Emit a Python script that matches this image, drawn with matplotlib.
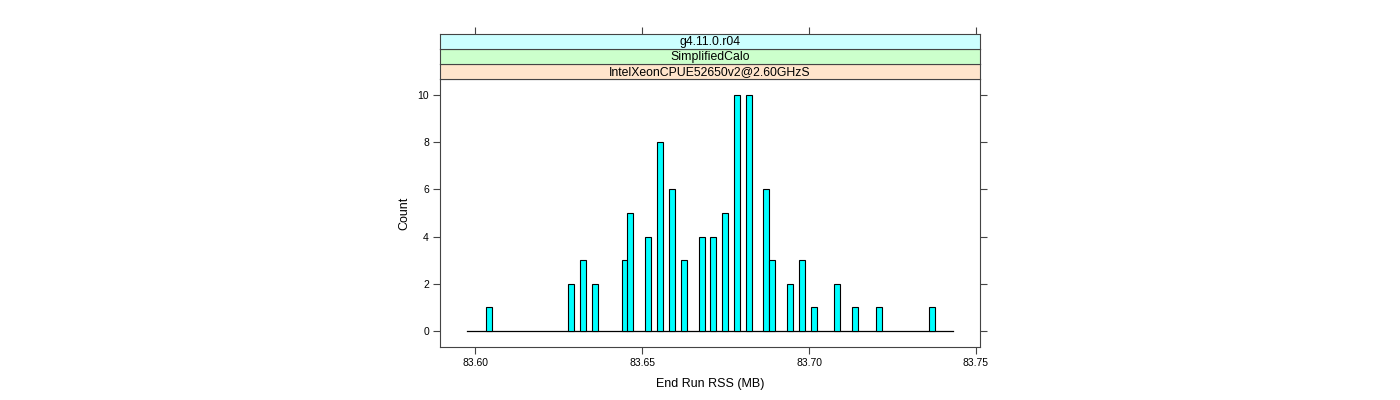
import matplotlib
matplotlib.use("Agg")
import matplotlib.pyplot as plt
import numpy as np

plt.rcParams['font.family'] = ['Liberation Sans', 'DejaVu Sans']

# bar centres (MB) and counts
rss = [83.6041, 83.6288, 83.6323, 83.6358, 83.6448, 83.6465, 83.6519, 83.6554,
       83.6590, 83.6625, 83.6680, 83.6713, 83.6749, 83.6784, 83.6820, 83.6872,
       83.6890, 83.6944, 83.6980, 83.7015, 83.7085, 83.7139, 83.7210, 83.7369]
counts = [1, 2, 3, 2, 3, 5, 4, 8, 6, 3, 4, 4, 5, 10, 10, 6, 3, 2, 3, 1, 2, 1, 1, 1]
hist_range = [83.5976, 83.7431]
strips = ["g4.11.0.r04", "SimplifiedCalo", "IntelXeonCPUE52650v2@2.60GHzS"]
strip_cols = ["#ccffff", "#ccffcc", "#ffe5cc"]
xticks = [83.60, 83.65, 83.70, 83.75]
yticks = [0, 2, 4, 6, 8, 10]

edge = '#444444'
fig = plt.figure(figsize=(14, 4), dpi=100)
ax = fig.add_axes([440/1400, 1-347/400, 540/1400, 268/400])

ax.bar(rss, counts, width=0.0018, color='#00ffff', edgecolor='black', linewidth=0.8, zorder=3)
ax.plot(hist_range, [0, 0], color='black', linewidth=0.9, zorder=2)

xlim = (83.5895, 83.7512)
ax.set_xlim(xlim)
ax.set_ylim(-0.7, 10.7)
ax.set_xticks(xticks)
ax.set_xticklabels(["%.2f" % v for v in xticks])
ax.set_yticks(yticks)
ax.tick_params(axis='both', direction='out', length=5, color=edge, labelsize=7.5, pad=3)
ax.tick_params(axis='y', right=True, labelright=False)
for s in ax.spines.values():
    s.set_color(edge)
ax.set_xlabel("End Run RSS (MB)", fontsize=9, labelpad=7)
ax.set_ylabel("Count", fontsize=9, labelpad=5)

# strips, bottom one sits on the panel
h = 15
for i, (txt, c) in enumerate(zip(reversed(strips), reversed(strip_cols))):
    bottom = 79 - h*(i+1)
    sax = fig.add_axes([440/1400, 1-(bottom+h)/400, 540/1400, h/400])
    sax.set_facecolor(c)
    sax.set_xlim(xlim)
    sax.set_ylim(0, 1)
    sax.set_yticks([])
    if i == len(strips)-1:
        sax.set_xticks(xticks)
        sax.tick_params(axis='x', bottom=False, labelbottom=False, top=True,
                        labeltop=False, direction='out', length=5, color=edge)
    else:
        sax.set_xticks([])
    for s in sax.spines.values():
        s.set_color(edge)
    sax.text(0.5, 0.45, txt, transform=sax.transAxes, ha='center', va='center', fontsize=8.8)

fig.savefig("out.png", dpi=100)
